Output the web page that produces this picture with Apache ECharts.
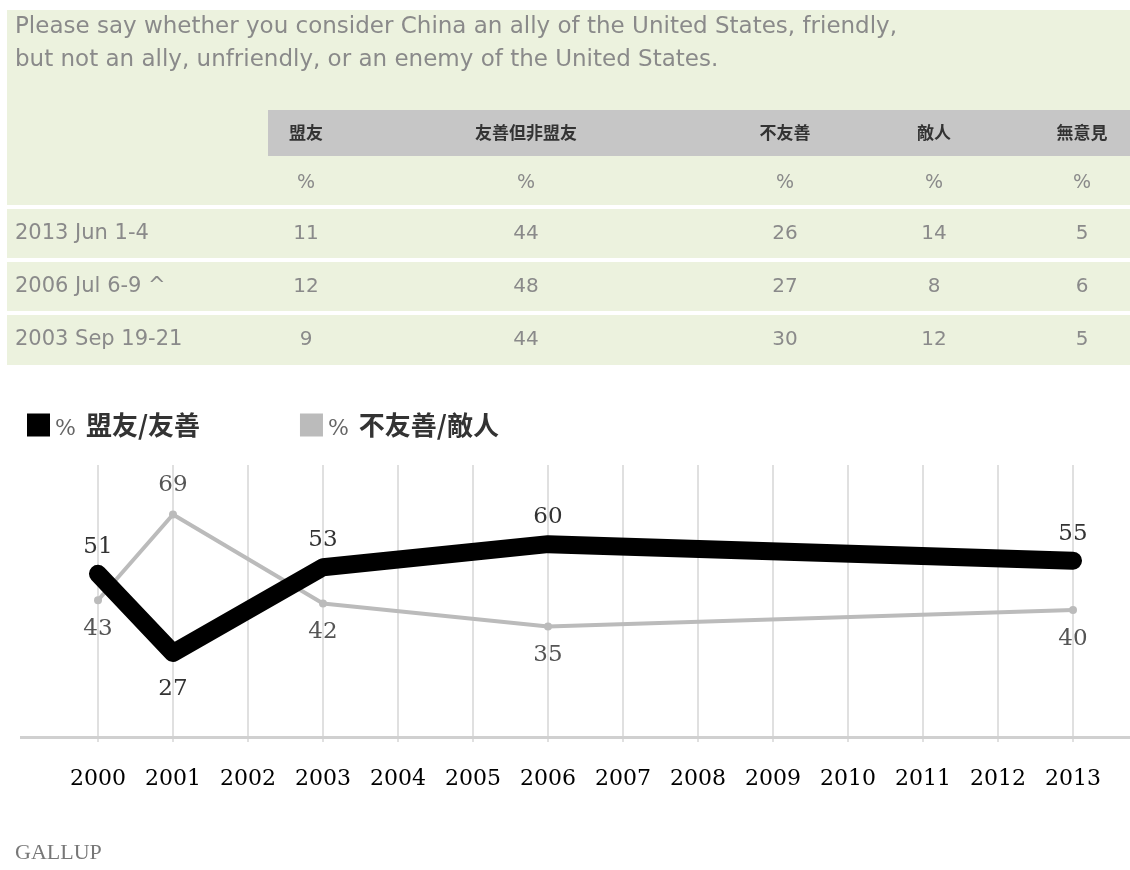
<!DOCTYPE html>
<html>
<head>
<meta charset="utf-8">
<script src="https://cdn.jsdelivr.net/npm/echarts@6/dist/echarts.min.js"></script>
<style>
html,body{margin:0;padding:0;background:#fff;}
#main{width:1130px;height:870px;}
</style>
</head>
<body>
<div id="main"></div>
<script>
// ---- Data ----
const titleLines = [
  'Please say whether you consider China an ally of the United States, friendly,',
  'but not an ally, unfriendly, or an enemy of the United States.'
];
const tableCols = ['盟友', '友善但非盟友', '不友善', '敵人', '無意見'];
const tableUnits = ['%', '%', '%', '%', '%'];
const tableRows = ['2013 Jun 1-4', '2006 Jul 6-9 ^', '2003 Sep 19-21'];
const allyPct = [11, 12, 9];
const friendlyPct = [44, 48, 44];
const unfriendlyPct = [26, 27, 30];
const enemyPct = [14, 8, 12];
const noOpinionPct = [5, 6, 5];

const years = ['2000','2001','2002','2003','2004','2005','2006','2007','2008','2009','2010','2011','2012','2013'];
const allyFriendly = [51, 27, null, 53, null, null, 60, null, null, null, null, null, null, 55];
const unfriendlyEnemy = [43, 69, null, 42, null, null, 35, null, null, null, null, null, null, 40];
const legendNames = ['% 盟友/友善', '% 不友善/敵人'];
const sourceLabel = 'GALLUP';

// ---- Layout / styles ----
const sans = '"DejaVu Sans", "Open Sans", sans-serif';
const serif = '"DejaVu Serif", "Liberation Serif", serif';
const cjk = '"Noto Sans CJK TC", "Noto Sans CJK SC", sans-serif';
const colX = [306, 526, 785, 934, 1082];
const headerY = 133, unitY = 183, rowY = [234, 287, 340];

const graphics = [];
graphics.push({type:'rect', shape:{x:7, y:10, width:1123, height:355}, style:{fill:'#ecf2de'}, z:-10});
graphics.push({type:'rect', shape:{x:268, y:110, width:862, height:46}, style:{fill:'#c6c6c6'}, z:-9});
[207, 260, 313].forEach(y => graphics.push({type:'rect', shape:{x:7, y:y-2, width:1123, height:4}, style:{fill:'#ffffff'}, z:-8}));
titleLines.forEach((t, i) => graphics.push({type:'text', left:15, top:[16, 49][i],
  style:{text:t, fill:'#8a8a8a', font:'23px ' + sans}}));
tableCols.forEach((t, i) => graphics.push({type:'text', x:colX[i], y:headerY,
  style:{text:t, fill:'#333', font:'bold 17px ' + cjk, align:'center', verticalAlign:'middle'}}));
tableUnits.forEach((t, i) => graphics.push({type:'text', x:colX[i], y:unitY,
  style:{text:t, fill:'#8a8a8a', font:'19px ' + sans, align:'center', verticalAlign:'middle'}}));
const cols = [allyPct, friendlyPct, unfriendlyPct, enemyPct, noOpinionPct];
tableRows.forEach((r, ri) => {
  graphics.push({type:'text', x:15, y:rowY[ri],
    style:{text:r, fill:'#8a8a8a', font:'21px ' + sans, align:'left', verticalAlign:'middle'}});
  cols.forEach((c, ci) => graphics.push({type:'text', x:colX[ci], y:rowY[ri],
    style:{text:String(c[ri]), fill:'#8a8a8a', font:'20px ' + sans, align:'center', verticalAlign:'middle'}}));
});
graphics.push({type:'rect', shape:{x:20, y:736, width:1110, height:3}, style:{fill:'#d0d0d0'}, z:5});
graphics.push({type:'text', left:15, top:842, style:{text:sourceLabel, fill:'#777', font:'22px "Liberation Serif", serif'}});

function labelled(arr, other, dist) {
  return arr.map((v, i) => {
    if (v == null) return null;
    const above = other[i] == null || v >= other[i];
    return {value: v, label: {position: above ? 'top' : 'bottom', distance: above ? dist[0] : dist[1]}};
  });
}

const chart = echarts.init(document.getElementById('main'));
chart.setOption({
  backgroundColor: '#ffffff',
  animation: false,
  graphic: graphics,
  legend: {
    left: 22, top: 407,
    itemWidth: 23, itemHeight: 23, itemGap: 100,
    icon: 'rect',
    data: legendNames,
    formatter: n => '{p|%}   {t|' + n.replace('% ', '') + '}',
    textStyle: {
      rich: {
        p: {fontFamily: serif, fontSize: 22, color: '#666', padding: [8, 0, 0, 0]},
        t: {fontFamily: cjk, fontSize: 26, fontWeight: 'bold', color: '#333'}
      }
    }
  },
  grid: {left: 98, right: 57, top: 465, bottom: 128},
  xAxis: {
    type: 'category',
    data: years,
    boundaryGap: false,
    axisLine: {show: false},
    axisTick: {show: false},
    axisLabel: {interval: 0, hideOverlap: false, margin: 26, fontFamily: serif, fontSize: 22, color: '#000'},
    splitLine: {show: true, interval: 0, lineStyle: {color: '#e0e0e0', width: 2}}
  },
  yAxis: {type: 'value', min: 0, max: 84, show: false, splitLine: {show: false}},
  series: [
    {
      name: legendNames[1], type: 'line', connectNulls: true,
      data: labelled(unfriendlyEnemy, allyFriendly, [14, 13]),
      symbol: 'circle', symbolSize: 8,
      itemStyle: {color: '#bbbbbb'},
      lineStyle: {color: '#bbbbbb', width: 4},
      label: {show: true, fontFamily: serif, fontSize: 23, color: '#555'},
      z: 2
    },
    {
      name: legendNames[0], type: 'line', connectNulls: true,
      data: labelled(allyFriendly, unfriendlyEnemy, [15, 24]),
      symbol: 'circle', symbolSize: 1,
      itemStyle: {color: '#000'},
      lineStyle: {color: '#000', width: 18, cap: 'round', join: 'round'},
      label: {show: true, fontFamily: serif, fontSize: 23, color: '#333'},
      z: 3
    }
  ]
});
</script>
</body>
</html>
